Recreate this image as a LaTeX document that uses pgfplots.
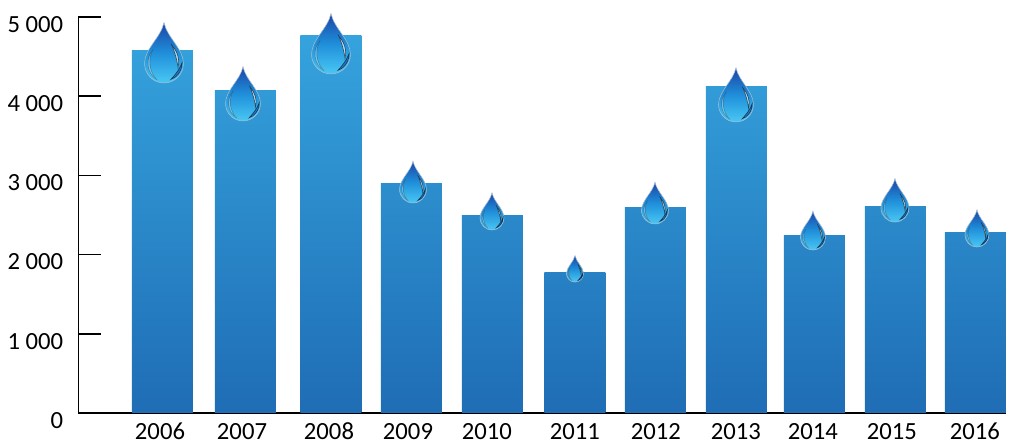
\documentclass[border=0pt]{standalone}
\usepackage{fontspec}
\setmainfont{Carlito}
\usepackage{pgfplots}
\pgfplotsset{compat=1.18}

\definecolor{bartop}{HTML}{35A3DD}
\definecolor{barbot}{HTML}{1F6DB5}
\definecolor{dropdark}{HTML}{1B45A6}
\definecolor{dropmid}{HTML}{1F8FDA}
\definecolor{droplight}{HTML}{4AC8F4}
\definecolor{droprim}{HTML}{A9BDD0}

% water drop, centre of the bulb on the data point, radius = mark size
\pgfdeclareplotmark{drop}{%
  \begin{scope}[x=\pgfplotmarksize,y=\pgfplotmarksize]
    \path[draw=droprim,line width=0.4pt,top color=dropdark,bottom color=droplight,middle color=dropmid]
      (0,2.1) .. controls (0.15,1.35) and (1,0.75) .. (1,0)
      .. controls (1,-0.55) and (0.55,-1) .. (0,-1)
      .. controls (-0.55,-1) and (-1,-0.55) .. (-1,0)
      .. controls (-1,0.75) and (-0.15,1.35) .. (0,2.1) -- cycle;
    % dark lower right edge
    \path[fill=dropdark,opacity=0.6]
      (0.93,0.05) .. controls (0.93,-0.45) and (0.6,-0.75) .. (0.35,-0.82)
      .. controls (0.6,-0.55) and (0.8,-0.3) .. (0.93,0.05) -- cycle;
    % highlight on the right
    \path[fill=white,opacity=0.65]
      (0.4,0.95) .. controls (0.7,0.6) and (0.82,0.2) .. (0.72,-0.2)
      .. controls (0.68,0.15) and (0.55,0.6) .. (0.4,0.95) -- cycle;
    % pale rim on the left
    \path[fill=white,opacity=0.3]
      (-0.6,0.65) .. controls (-0.92,0.3) and (-0.95,-0.45) .. (-0.35,-0.85)
      .. controls (-0.8,-0.4) and (-0.8,0.25) .. (-0.6,0.65) -- cycle;
  \end{scope}%
}

\pgfplotsset{
  waterbar/.style={ybar,bar shift=0pt,draw=none,bottom color=barbot,top color=barbot!#1!bartop},
  waterdrop/.style={only marks,mark=drop,mark size=#1},
}

\begin{document}
\begin{tikzpicture}
  \path[use as bounding box] (-58.875pt,-24pt) rectangle (699.375pt,309.75pt);
  \begin{axis}[
    scale only axis,
    width=695.6pt,
    height=297pt,
    xmin=78.5, xmax=1006,
    ymin=0, ymax=5000,
    clip=false,
    bar width=61,
    axis x line*=bottom,
    axis y line*=left,
    axis line style={black,line width=1.1pt,-},
    xtick={160,242,329,408,487,575,656,736,813,892,975},
    xticklabels={2006,2007,2008,2009,2010,2011,2012,2013,2014,2015,2016},
    xtick style={draw=none},
    ytick={0,1000,2000,3000,4000,5000},
    ytick style={black,line width=1.1pt},
    tick align=inside,
    major tick length=17.25pt,
    tick label style={font=\fontsize{18.5}{21}\selectfont},
    /pgf/number format/assume math mode=true,
    /pgf/number format/1000 sep={\ },
    yticklabel style={yshift=-5.5pt,xshift=-8pt},
    xticklabel style={inner sep=0pt,text height=12.5pt,text depth=0pt,yshift=-7.5pt},
  ]
  \addplot[waterbar=4] coordinates {(162.5,4575)};
  \addplot[waterbar=15] coordinates {(245.5,4072)};
  \addplot[waterbar=0] coordinates {(331,4763)};
  \addplot[waterbar=39] coordinates {(411.5,2894)};
  \addplot[waterbar=48] coordinates {(492.5,2490)};
  \addplot[waterbar=63] coordinates {(575,1775)};
  \addplot[waterbar=46] coordinates {(655.5,2591)};
  \addplot[waterbar=13] coordinates {(736.5,4119)};
  \addplot[waterbar=53] coordinates {(814.5,2247)};
  \addplot[waterbar=45] coordinates {(895.5,2604)};
  \addplot[waterbar=52] coordinates {(975.5,2285)};

  \addplot[waterdrop=14.6pt] coordinates {(164,4413)};
  \addplot[waterdrop=13.1pt] coordinates {(243,3908)};
  \addplot[waterdrop=14.6pt] coordinates {(331,4527)};
  \addplot[waterdrop=10.1pt] coordinates {(413,2822)};
  \addplot[waterdrop=9pt] coordinates {(492,2462)};
  \addplot[waterdrop=6.4pt] coordinates {(575,1761)};
  \addplot[waterdrop=10.1pt] coordinates {(655,2557)};
  \addplot[waterdrop=13.1pt] coordinates {(736,3895)};
  \addplot[waterdrop=9.4pt] coordinates {(813,2216)};
  \addplot[waterdrop=10.5pt] coordinates {(895,2588)};
  \addplot[waterdrop=9pt] coordinates {(977,2247)};
  \end{axis}
\end{tikzpicture}
\end{document}
